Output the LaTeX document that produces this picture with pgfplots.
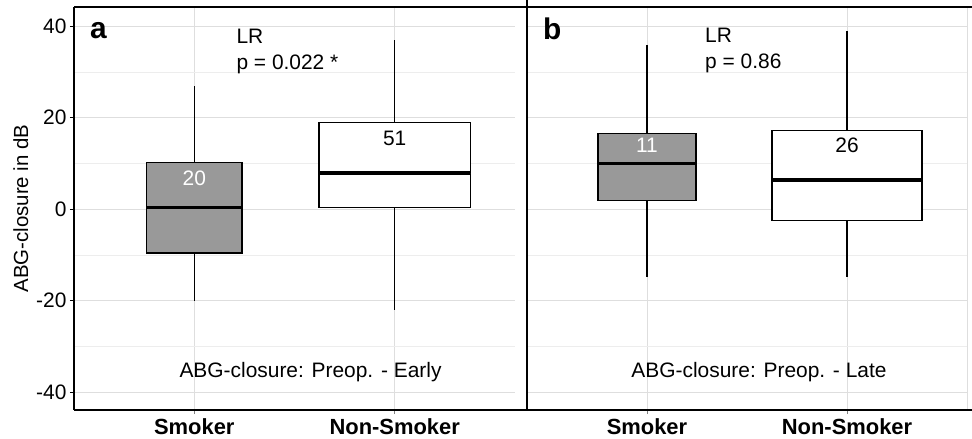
\documentclass[border=0pt]{standalone}
\usepackage{pgfplots}
\pgfplotsset{compat=1.18}
\usepgfplotslibrary{statistics}
\usepackage{fontspec}
\setmainfont{Liberation Sans}
\definecolor{boxgray}{HTML}{999999}
\definecolor{majgrid}{HTML}{DEDEDE}
\definecolor{mingrid}{HTML}{EDEDED}
\newcommand{\fs}[1]{\fontsize{#1}{#1}\selectfont}
\pgfplotsset{
  panel/.style={
    scale only axis, width=441bp, height=403bp,
    xmin=0.4, xmax=2.6, ymin=-43.9, ymax=44.2,
    axis line style={draw=none},
    xtick={1,2}, xticklabels={\textbf{Smoker},\textbf{Non-Smoker}},
    ytick={-40,-20,0,20,40}, minor ytick={-30,-10,10,30},
    tick pos=left,
    grid=both,
    major grid style={majgrid, line width=0.8bp},
    minor grid style={mingrid, line width=0.8bp},
    tick align=outside, major tick length=4bp, minor tick length=0pt,
    tick style={black, line width=0.8bp},
    xtick style={gray},
    x tick label style={font=\fs{22}, yshift=-1bp},
    y tick label style={font=\fs{21}},
    /pgf/number format/assume math mode=true,
    clip=false,
    boxplot/every box/.style={line width=1.4bp},
    boxplot/every whisker/.style={line width=1.4bp},
    boxplot/every median/.style={line width=3.5bp},
  },
  bx/.style={draw=black, line width=1.4bp, solid, mark=none},
}
\begin{document}
\begin{tikzpicture}
\useasboundingbox (0,0) rectangle (972bp,439bp);
% panel a
\begin{axis}[panel, name=A, at={(74bp,29bp)}, anchor=south west,
  ylabel={ABG-closure in dB}, ylabel style={font=\fs{20.5}, yshift=1bp}]
\addplot+[bx, fill=boxgray, boxplot prepared={draw direction=y, draw position=1,
  lower whisker=-20, lower quartile=-9.6, median=0.4,
  upper quartile=10.2, upper whisker=26.9,
  box extend=0.475, whisker extend=0}] coordinates {};
\addplot+[bx, fill=white, boxplot prepared={draw direction=y, draw position=2,
  lower whisker=-22.1, lower quartile=0.4, median=7.9,
  upper quartile=18.95, upper whisker=36.9,
  box extend=0.755, whisker extend=0}] coordinates {};
\node[anchor=base, text=white, font=\fs{21}, inner sep=0] at (axis cs:1,5.15) {20};
\node[anchor=base, font=\fs{21}, inner sep=0] at (axis cs:2,13.9) {51};
\node[anchor=base west, font=\bfseries\fs{30}, inner sep=0] at (axis cs:0.48,37.3) {a};
\node[anchor=base west, font=\fs{21}, inner sep=0] at (axis cs:1.21,36.3) {LR};
\node[anchor=base west, font=\fs{21}, inner sep=0] at (axis cs:1.21,30.6) {p = 0.022 *};
\node[anchor=base, font=\fs{21}, inner sep=0] at (axis cs:1.58,-36.8) {ABG-closure: Preop. - Early};
\end{axis}
% panel b
\begin{axis}[panel, name=B, at={(527bp,29bp)}, anchor=south west, width=440bp,
  yticklabels={}, ytick style={draw=none}]
\addplot+[bx, fill=boxgray, boxplot prepared={draw direction=y, draw position=1,
  lower whisker=-14.9, lower quartile=1.9, median=10.0,
  upper quartile=16.5, upper whisker=36.0,
  box extend=0.49, whisker extend=0}] coordinates {};
\addplot+[bx, fill=white, boxplot prepared={draw direction=y, draw position=2,
  lower whisker=-14.9, lower quartile=-2.5, median=6.4,
  upper quartile=17.2, upper whisker=38.9,
  box extend=0.75, whisker extend=0}] coordinates {};
\node[anchor=base, text=white, font=\fs{21}, inner sep=0] at (axis cs:1,12.4) {11};
\node[anchor=base, font=\fs{21}, inner sep=0] at (axis cs:2,12.4) {26};
\node[anchor=base west, font=\bfseries\fs{30}, inner sep=0] at (axis cs:0.48,37.1) {b};
\node[anchor=base west, font=\fs{21}, inner sep=0] at (axis cs:1.29,36.5) {LR};
\node[anchor=base west, font=\fs{21}, inner sep=0] at (axis cs:1.29,30.8) {p = 0.86};
\node[anchor=base, font=\fs{21}, inner sep=0] at (axis cs:1.56,-36.8) {ABG-closure: Preop. - Late};
\end{axis}
% frame
\draw[majgrid, line width=1bp] (967bp,29bp) -- (967bp,432bp);
\draw[black, line width=1.5bp] (74bp,432bp) -- (972bp,432bp);
\draw[black, line width=1.5bp] (74bp,29bp) -- (972bp,29bp);
\draw[black, line width=1.5bp] (74bp,29bp) -- (74bp,432bp);
\draw[black, line width=1.5bp] (527bp,29bp) -- (527bp,439bp);
\end{tikzpicture}
\end{document}
